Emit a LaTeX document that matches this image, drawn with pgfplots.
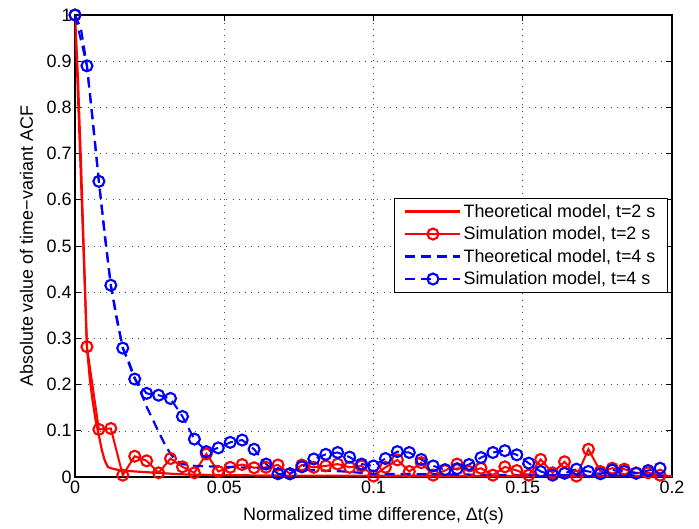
\documentclass[border=0pt]{standalone}
\usepackage{fontspec}
\setmainfont{Liberation Sans}
\usepackage{pgfplots}
\pgfplotsset{compat=1.18}

% simulation, t=2 s
\pgfplotstableread{
x y
0 1
0.004 0.282
0.008 0.103
0.012 0.105
0.016 0.004
0.020 0.045
0.024 0.035
0.028 0.009
0.032 0.040
0.036 0.022
0.040 0.009
0.044 0.050
0.048 0.012
0.052 0.021
0.056 0.027
0.060 0.020
0.064 0.021
0.068 0.026
0.072 0.007
0.076 0.026
0.080 0.021
0.084 0.024
0.088 0.028
0.092 0.021
0.096 0.024
0.100 0.002
0.104 0.021
0.108 0.037
0.112 0.012
0.116 0.031
0.120 0.004
0.124 0.014
0.128 0.028
0.132 0.012
0.136 0.019
0.140 0.004
0.144 0.022
0.148 0.014
0.152 0.004
0.156 0.038
0.160 0.009
0.164 0.033
0.168 0.002
0.172 0.060
0.176 0.012
0.180 0.019
0.184 0.017
0.188 0.009
0.192 0.009
0.196 0.004
}\simtwo

% simulation, t=4 s
\pgfplotstableread{
x y
0 1
0.004 0.890
0.008 0.640
0.012 0.415
0.016 0.279
0.020 0.212
0.024 0.181
0.028 0.177
0.032 0.170
0.036 0.131
0.040 0.082
0.044 0.055
0.048 0.063
0.052 0.075
0.056 0.080
0.060 0.060
0.064 0.028
0.068 0.007
0.072 0.007
0.076 0.022
0.080 0.039
0.084 0.049
0.088 0.053
0.092 0.043
0.096 0.028
0.100 0.024
0.104 0.040
0.108 0.055
0.112 0.053
0.116 0.038
0.120 0.024
0.124 0.016
0.128 0.018
0.132 0.027
0.136 0.042
0.140 0.053
0.144 0.057
0.148 0.048
0.152 0.030
0.156 0.012
0.160 0.004
0.164 0.008
0.168 0.017
0.172 0.012
0.176 0.007
0.180 0.015
0.184 0.012
0.188 0.008
0.192 0.014
0.196 0.019
}\simfour

% theoretical, t=2 s
\pgfplotstableread{
x y
0 1
0.001 0.86
0.002 0.68
0.003 0.48
0.004 0.28
0.005 0.21
0.006 0.16
0.007 0.12
0.008 0.09
0.009 0.058
0.010 0.035
0.011 0.022
0.012 0.019
0.014 0.016
0.016 0.014
0.020 0.012
0.025 0.010
0.030 0.008
0.035 0.006
0.040 0.005
0.050 0.004
0.070 0.003
0.100 0.003
0.150 0.002
0.200 0.002
}\theotwo

% theoretical, t=4 s
\pgfplotstableread{
x y
0 1
0.002 0.97
0.004 0.89
0.006 0.77
0.008 0.64
0.010 0.52
0.012 0.415
0.014 0.34
0.016 0.28
0.018 0.25
0.020 0.215
0.022 0.185
0.024 0.152
0.026 0.125
0.028 0.098
0.030 0.072
0.032 0.050
0.034 0.035
0.036 0.028
0.040 0.024
0.050 0.022
0.060 0.020
0.070 0.015
0.080 0.015
0.090 0.012
0.100 0.007
0.120 0.006
0.150 0.004
0.200 0.003
}\theofour

\begin{document}
\begin{tikzpicture}
\begin{axis}[
    name=ax,
    scale only axis,
    width=597bp, height=462bp,
    font=\fontsize{18}{21}\selectfont,
    xmin=0, xmax=0.2, ymin=0, ymax=1,
    xtick={0,0.05,0.1,0.15,0.2},
    xticklabels={0,0.05,0.1,0.15,0.2},
    ytick={0,0.1,...,1},
    yticklabels={0,0.1,0.2,0.3,0.4,0.5,0.6,0.7,0.8,0.9,1},
    /pgf/number format/assume math mode=true,
    tick align=inside,
    major tick length=6bp,
    tick style={black, line width=0.8bp},
    axis line style={line width=1.5bp},
    grid=major,
    grid style={black!70, line width=0.6bp, dash pattern=on 0.8bp off 5.5bp},
    xlabel={Normalized time difference, Δt(s)},
    ylabel={Absolute value of time−variant ACF},
    xlabel style={at={(axis description cs:0.5,0)}, anchor=base, yshift=-43bp},
    ylabel style={at={(axis description cs:-0.0704,0.5)}, anchor=base},
    legend style={at={(0.993,0.604)}, anchor=north east, draw=black,
        line width=0.8bp, font=\fontsize{18}{21}\selectfont,
        row sep=4bp, inner xsep=10bp, inner ysep=4bp},
    legend cell align=left,
    legend image code/.code={
        \draw[mark repeat=2, mark phase=2]
        plot coordinates {(0cm,0cm) (0.97cm,0cm) (1.94cm,0cm)};},
]
\addplot[red, line width=2.2bp, no markers] table {\theotwo};
\addplot[red, line width=2bp, mark=o, mark size=5.5bp,
    mark options={solid, line width=2.1bp}] table {\simtwo};
\addplot[blue, line width=2.2bp, no markers, dash pattern=on 10bp off 6bp] table {\theofour};
\addplot[blue, line width=2bp, dash pattern=on 10bp off 6bp, mark=o, mark size=5.5bp,
    mark options={solid, line width=2.1bp}] table {\simfour};
\legend{Theoretical model{,} t=2 s, Simulation model{,} t=2 s,
    Theoretical model{,} t=4 s, Simulation model{,} t=4 s}
\end{axis}
\pgfresetboundingbox
\path ([shift={(-75bp,-52bp)}]ax.south west) rectangle ([shift={(27bp,15bp)}]ax.north east);
\end{tikzpicture}
\end{document}
